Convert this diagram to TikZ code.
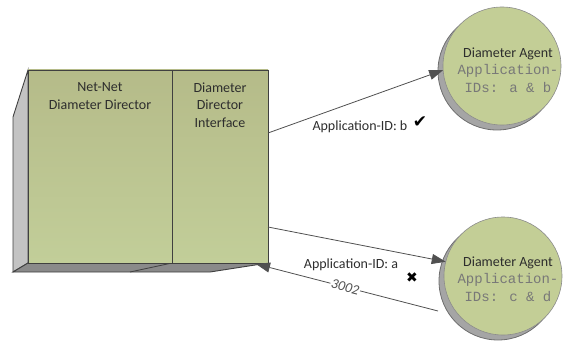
\documentclass[tikz,border=0pt]{standalone}
\usepackage{fontspec}
\setmainfont{Carlito}
\newfontfamily\monofont{Liberation Mono}
\newfontfamily\symfont{DejaVu Sans}
\usetikzlibrary{arrows.meta,calc}
\definecolor{boxtop}{RGB}{181,187,137}
\definecolor{boxbot}{RGB}{194,206,153}
\definecolor{agentfill}{RGB}{195,206,150}
\definecolor{sidegray}{RGB}{195,195,195}
\definecolor{bottomgray}{RGB}{138,138,138}
\definecolor{edgegray}{RGB}{64,64,64}
\definecolor{linegray}{RGB}{80,80,80}
\definecolor{txt}{RGB}{45,45,45}
\definecolor{monogray}{RGB}{120,120,120}
\definecolor{shadowgray}{RGB}{165,165,165}
\definecolor{shadowedge}{RGB}{110,110,110}
\definecolor{agentedge}{RGB}{140,140,140}
\begin{document}
\begin{tikzpicture}[x=1pt,y=-1pt,
  every node/.style={font=\fontsize{14}{17.5}\selectfont, text=txt},
  face/.style={draw=edgegray, line width=0.9pt, top color=boxtop, bottom color=boxbot,
    minimum height=193pt, inner sep=0pt, outer sep=0pt},
  agent/.style={circle, draw=agentedge, line width=0.6pt, fill=agentfill, minimum size=118pt, inner sep=0pt, outer sep=0pt},
  shadowc/.style={circle, draw=shadowedge, line width=0.8pt, fill=shadowgray, minimum size=118pt, inner sep=0pt},
  conn/.style={draw=linegray, line width=0.8pt, -{Triangle[length=14pt,width=10pt]}},
  lbl/.style={text=txt},
  symb/.style={font={\symfont\fontsize{17}{17}\selectfont}, text=black, inner sep=0pt}
]
\useasboundingbox (0,0) rectangle (563,345);

% 3D box side and bottom faces
\filldraw[fill=sidegray, draw=edgegray, line width=0.9pt] (28,70) -- (13,117) -- (13,272) -- (28,263) -- cycle;
\filldraw[fill=bottomgray, draw=edgegray, line width=0.9pt] (13,272) -- (28,263) -- (268,263) -- (210,272) -- cycle;
\draw[edgegray, line width=0.8pt] (172,263) -- (130,272);

% front faces
\node[face, minimum width=144pt] (dir) at (100,166.5) {};
\node[face, minimum width=96pt] (iface) at (220,166.5) {};
\node[anchor=north, align=center] (dirtext) at (100,79) {Net-Net\\Diameter Director};
\node[anchor=north, align=center] (ifacetext) at (220,79) {Diameter\\Director\\Interface};

% agents
\node[shadowc] (sh1) at (497,71) {};
\node[agent] (ag1) at (502,66) {};
\node[align=center] (ag1text) at (508,70) {Diameter Agent\\{\monofont\color{monogray}Application-}\\{\monofont\color{monogray}IDs: a \& b}};

\node[shadowc] (sh2) at (498,281) {};
\node[agent] (ag2) at (503,276) {};
\node[align=center] (ag2text) at (508,279) {Diameter Agent\\{\monofont\color{monogray}Application-}\\{\monofont\color{monogray}IDs: c \& d}};

% connector ends
\coordinate (a1s) at (268,133);
\coordinate (a2s) at (268,227);
\coordinate (a3s) at (438,311);
\coordinate (a3e) at (256,264);

\draw[conn] (a1s) -- (ag1.184);
\draw[conn] (a2s) -- (ag2.166);
\draw[conn] (a3s) -- node[pos=0.51, sloped, fill=white, inner sep=1pt,
   font={\itshape\fontsize{14}{14}\selectfont}, text=linegray] (code) {3002} (a3e);

% labels
\node[lbl, anchor=west] (lblb) at (309,127) {Application-ID: b};
\node[symb] (check) at (420,122) {✔};
\node[lbl] (lbla) at (351,265) {Application-ID: a};
\node[symb, font={\symfont\fontsize{14}{14}\selectfont}] (cross) at (412,278) {✖};
\end{tikzpicture}
\end{document}
